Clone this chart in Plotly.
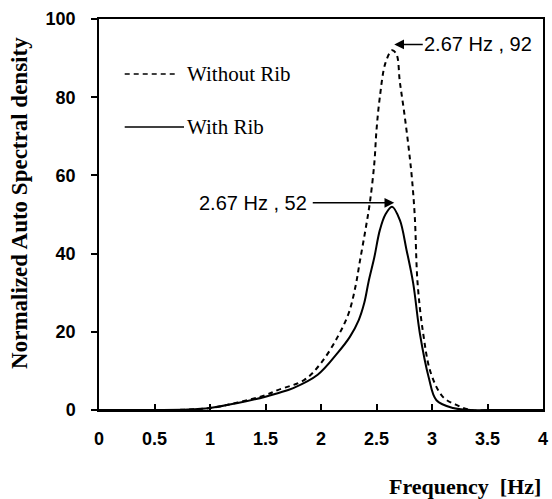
import plotly.graph_objects as go

# ---- data ----
freq_with = [0, 0.5, 0.8, 1.0, 1.25, 1.5, 1.61, 1.75, 1.97, 2.15, 2.26, 2.34, 2.39,
             2.43, 2.48, 2.53, 2.58, 2.64, 2.71, 2.77, 2.83, 2.89, 2.97, 3.04, 3.19,
             3.35, 3.6, 4.0]
with_rib = [0, 0, 0.1, 0.5, 1.8, 3.4, 4.3, 5.6, 9.0, 14.6, 18.7, 23, 27.4,
            33, 39, 46, 50, 52, 48.6, 41, 32.5, 19.7, 8.4, 2.5, 0.5,
            0, 0, 0]

freq_without = [0, 0.5, 0.8, 1.0, 1.25, 1.5, 1.61, 1.85, 2.0, 2.15, 2.25, 2.31, 2.35,
                2.40, 2.44, 2.48, 2.50, 2.53, 2.58, 2.64, 2.68, 2.71, 2.75, 2.79, 2.82,
                2.845, 2.87, 2.92, 2.99, 3.1, 3.22, 3.35, 3.6, 4.0]
without_rib = [0, 0, 0.1, 0.5, 1.9, 3.8, 5.1, 7.7, 12.0, 18.7, 24.8, 31.5, 38,
               46, 53, 63, 71.6, 80, 88.7, 92, 91, 84, 76, 67, 59,
               49.4, 32.5, 19.7, 9.4, 3.3, 1.3, 0, 0, 0]

x_ticks = [0, 0.5, 1, 1.5, 2, 2.5, 3, 3.5, 4]
x_tick_labels = ["0", "0.5", "1", "1.5", "2", "2.5", "3", "3.5", "4"]
y_ticks = [0, 20, 40, 60, 80, 100]

peak_without = (2.66, 93.5, "2.67 Hz , 92")
peak_with = (2.66, 53, "2.67 Hz , 52")

fig = go.Figure()
fig.add_trace(go.Scatter(x=freq_without, y=without_rib, mode="lines",
                         line=dict(color="black", width=2, dash="5px,4px",
                                   shape="spline", smoothing=1.0),
                         name="Without Rib", showlegend=False))
fig.add_trace(go.Scatter(x=freq_with, y=with_rib, mode="lines",
                         line=dict(color="black", width=2,
                                   shape="spline", smoothing=1.0),
                         name="With Rib", showlegend=False))

ann_font = dict(family="Liberation Sans, Arial, sans-serif", size=20, color="black")
fig.add_annotation(x=peak_without[0], y=peak_without[1], text=peak_without[2],
                   showarrow=True, ax=84, ay=0, arrowhead=2, arrowsize=1.3,
                   arrowwidth=1.5, arrowcolor="black", font=ann_font, standoff=0)
fig.add_annotation(x=peak_with[0], y=peak_with[1], text=peak_with[2],
                   showarrow=True, ax=-141, ay=0, arrowhead=2, arrowsize=1.3,
                   arrowwidth=1.5, arrowcolor="black", font=ann_font, standoff=0,
                   borderpad=5)

# legend drawn manually
leg_font = dict(family="Liberation Serif, Times New Roman, serif", size=21, color="black")
fig.add_shape(type="line", xref="paper", yref="paper",
              x0=(125 - 99) / 449, x1=(178 - 99) / 449,
              y0=(410 - 74) / 391, y1=(410 - 74) / 391,
              line=dict(color="black", width=1.5, dash="5px,4px"))
fig.add_shape(type="line", xref="paper", yref="paper",
              x0=(125 - 99) / 449, x1=(185 - 99) / 449,
              y0=(410 - 127) / 391, y1=(410 - 127) / 391,
              line=dict(color="black", width=1.5))
fig.add_annotation(xref="paper", yref="paper", x=(186 - 99) / 449, y=(410 - 74) / 391,
                   text="Without Rib", showarrow=False, xanchor="left", yanchor="middle",
                   font=leg_font)
fig.add_annotation(xref="paper", yref="paper", x=(186 - 99) / 449, y=(410 - 127) / 391,
                   text="With Rib", showarrow=False, xanchor="left", yanchor="middle",
                   font=leg_font)

fig.add_annotation(xref="paper", yref="paper", x=(548 - 99) / 449, y=(410 - 486) / 391,
                   text="<b>Frequency  [Hz]</b>", showarrow=False,
                   xanchor="right", yanchor="middle",
                   font=dict(family="Liberation Serif, Times New Roman, serif", size=22, color="black"))
fig.add_annotation(xref="paper", yref="paper", x=(18 - 99) / 449, y=(410 - 203) / 391,
                   text="<b>Normalized Auto Spectral density</b>", showarrow=False,
                   textangle=-90, xanchor="center", yanchor="middle",
                   font=dict(family="Liberation Serif, Times New Roman, serif", size=23, color="black"))

tick_font = dict(family="Liberation Sans, Arial, sans-serif", size=18, color="black", weight="bold")
fig.update_xaxes(range=[0, 4], tickvals=x_ticks, ticktext=x_tick_labels,
                 ticks="inside", ticklen=6, tickwidth=1.5, tickcolor="black",
                 showline=True, linecolor="black", linewidth=1.5, mirror=True,
                 showgrid=False, zeroline=False, tickfont=tick_font,
                 ticklabelstandoff=12)
fig.update_yaxes(range=[0, 100], tickvals=y_ticks,
                 ticks="outside", ticklen=6, tickwidth=1.5, tickcolor="black",
                 showline=True, linecolor="black", linewidth=1.5, mirror=True,
                 showgrid=False, zeroline=False, tickfont=tick_font,
                 ticklabelstandoff=12)

fig.update_layout(width=552, height=499, margin=dict(l=99, r=4, t=19, b=89),
                  plot_bgcolor="white", paper_bgcolor="white", showlegend=False)

fig.write_html("out.html")
